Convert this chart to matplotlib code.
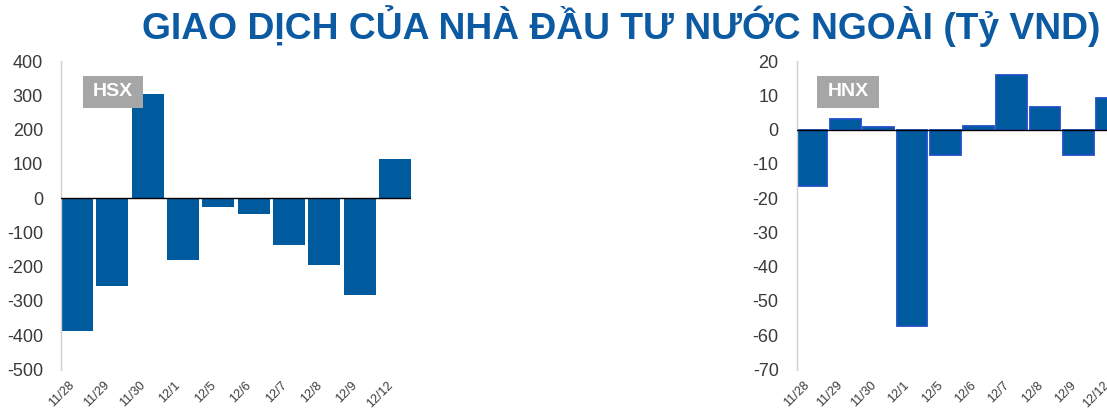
import matplotlib.pyplot as plt
from matplotlib.patches import Rectangle

dates = ['11/28', '11/29', '11/30', '12/1', '12/5', '12/6', '12/7', '12/8', '12/9', '12/12']
hsx_values = [-388, -257, 303, -182, -25, -45, -138, -194, -284, 115]
hnx_values = [-16.4, 3.2, 0.7, -57.2, -7.3, 1.1, 16.0, 6.7, -7.3, 9.2]

hsx_ticks = list(range(-500, 401, 100))
hnx_ticks = list(range(-70, 21, 10))

bar_color = '#005A9E'
hnx_edge = '#1F4FC4'
text_color = '#3A3A3A'

plt.rcParams['font.family'] = ['Liberation Sans', 'DejaVu Sans']

fig = plt.figure(figsize=(11.07, 4.13), dpi=100)

W, H = 1107.0, 413.0
ax_bottom = 1 - 369.5 / H
ax_height = (369.5 - 61) / H


def draw_panel(ax, values, yticks, label, width, edge, box_left, box_right):
    x = list(range(len(values)))
    if edge:
        ax.bar(x, values, width=width, color=bar_color, edgecolor=edge, linewidth=1.3, zorder=2)
    else:
        ax.bar(x, values, width=width, color=bar_color, zorder=2)
    ax.axhline(0, color='black', linewidth=1.0, zorder=3)
    ax.set_xlim(-width / 2, len(values) - 1 + width / 2)
    ax.set_ylim(yticks[0], yticks[-1])
    ax.set_yticks(yticks)
    ax.set_yticklabels([str(t) for t in yticks], fontsize=13, color=text_color)
    ax.set_xticks(x)
    ax.set_xticklabels(dates, rotation=45, ha='right', fontsize=9, color=text_color)
    ax.tick_params(axis='y', length=0, pad=13)
    ax.tick_params(axis='x', length=0, pad=7)
    for s in ['top', 'right', 'bottom']:
        ax.spines[s].set_visible(False)
    ax.spines['left'].set_color('#D0D0D0')
    ax.spines['left'].set_linewidth(1.0)

    # grey label box drawn in figure pixels
    box = Rectangle((box_left / W, 1 - 108 / H), (box_right - box_left) / W, 32 / H,
                    transform=fig.transFigure, facecolor='#A6A6A6', edgecolor='none', zorder=5)
    fig.patches.append(box)
    fig.text((box_left + box_right) / 2 / W, 1 - 92 / H, label, fontsize=14,
             fontweight='bold', color='white', ha='center', va='center', zorder=6)


ax1 = fig.add_axes([61 / W, ax_bottom, (411 - 61) / W, ax_height])
draw_panel(ax1, hsx_values, hsx_ticks, 'HSX', 0.9, None, 82.7, 142.7)

ax2 = fig.add_axes([796.7 / W, ax_bottom, (1127 - 796.7) / W, ax_height])
draw_panel(ax2, hnx_values, hnx_ticks, 'HNX', 0.92, hnx_edge, 817, 879)

fig.text(1100 / W, 1 - 39 / H, 'GIAO DỊCH CỦA NHÀ ĐẦU TƯ NƯỚC NGOÀI (Tỷ VND)',
         fontsize=26.8, fontweight='bold', color='#0B5AA2', ha='right', va='baseline')

plt.savefig('out.png', dpi=100)
